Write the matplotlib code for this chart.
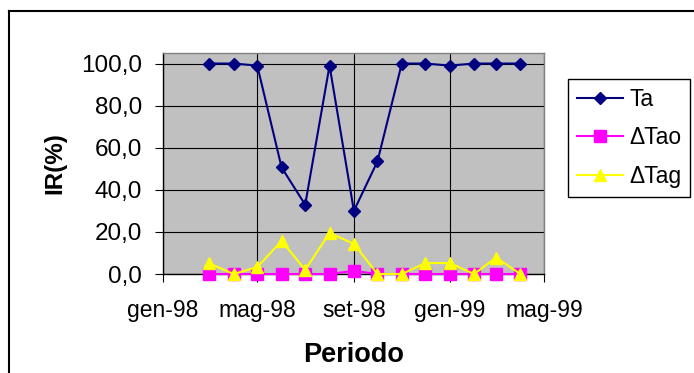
import datetime as dt
import matplotlib
matplotlib.use("Agg")
import matplotlib.pyplot as plt
from matplotlib.lines import Line2D

plt.rcParams['font.family'] = ['Liberation Sans', 'DejaVu Sans']

# monthly samples, Mar 1998 - Apr 1999
months = ['1998-03', '1998-04', '1998-05', '1998-06', '1998-07', '1998-08',
          '1998-09', '1998-10', '1998-11', '1998-12', '1999-01', '1999-02',
          '1999-03', '1999-04']
ta = [100.0, 100.0, 99.0, 50.6, 32.9, 99.0, 30.0, 53.5, 100.0, 100.0, 99.0,
      100.0, 100.0, 100.0]
d_tao = [0.0, 0.0, 0.0, 0.0, 0.0, 0.0, 1.5, 0.0, 0.0, 0.0, 0.0, 0.0, 0.0, 0.0]
d_tag = [5.0, 0.0, 3.3, 15.7, 2.0, 19.5, 14.3, 0.0, 0.0, 5.2, 5.2, 0.0, 7.8, 0.0]

xticks = ['1998-01', '1998-05', '1998-09', '1999-01', '1999-05']
xticklabels = ['gen-98', 'mag-98', 'set-98', 'gen-99', 'mag-99']
yticks = [0, 20, 40, 60, 80, 100]
yticklabels = ['0,0', '20,0', '40,0', '60,0', '80,0', '100,0']

def to_date(s):
    y, m = s.split('-')
    return dt.date(int(y), int(m), 1)

x = [to_date(m) for m in months]
xt = [to_date(m) for m in xticks]

W, H = 694, 373
fig = plt.figure(figsize=(W / 100, H / 100), dpi=100)
ax = fig.add_axes([163 / W, 1 - 274 / H, (544 - 163) / W, (274 - 53) / H])
ax.set_facecolor('#c0c0c0')

ax.plot(x, ta, color='#000080', lw=1.5, marker='D', ms=5.8, label='Ta',
        zorder=3, clip_on=False)
ax.plot(x, d_tao, color='#ff00ff', lw=1.5, marker='s', ms=8, label='\u0394Tao',
        zorder=4, clip_on=False)
ax.plot(x, d_tag, color='#ffff00', lw=1.5, marker='^', ms=8.5, label='\u0394Tag',
        zorder=5, clip_on=False)

ax.set_xlim(xt[0], xt[-1])
ax.set_ylim(0, 105)
ax.set_xticks(xt)
ax.set_xticklabels(xticklabels)
ax.set_yticks(yticks)
ax.set_yticklabels(yticklabels)
ax.grid(True, color='black', lw=0.8)
ax.set_axisbelow(True)

ax.tick_params(axis='y', direction='out', length=6, width=0.8, pad=9, labelsize=17.5)
ax.tick_params(axis='x', direction='out', length=6, width=0.8, pad=12, labelsize=16.5)
for side in ('top', 'right'):
    ax.spines[side].set_color('#808080')
    ax.spines[side].set_linewidth(1)
for side in ('left', 'bottom'):
    ax.spines[side].set_color('black')
    ax.spines[side].set_linewidth(1)

fig.text(354 / W, 1 - 355 / H, 'Periodo', ha='center', va='center',
         fontsize=19.5, fontweight='bold')
fig.text(55 / W, 1 - 163 / H, 'IR(%)', ha='center', va='center',
         rotation=90, fontsize=17.5, fontweight='bold')

leg = fig.legend(loc='upper left', bbox_to_anchor=(568 / W, 1 - 79 / H),
                 borderaxespad=0, fancybox=False, edgecolor='black',
                 framealpha=1, fontsize=16.5, handlelength=2.0,
                 handletextpad=0.3, labelspacing=0.68, borderpad=0.38)
leg.get_frame().set_linewidth(1)

# chart border
fig.add_artist(Line2D([9 / W, 9 / W], [1 - 11 / H, -0.05], color='black', lw=1.5))
fig.add_artist(Line2D([9 / W, 1.05], [1 - 11 / H, 1 - 11 / H], color='black', lw=1.5))

fig.savefig('out.png', dpi=100)
